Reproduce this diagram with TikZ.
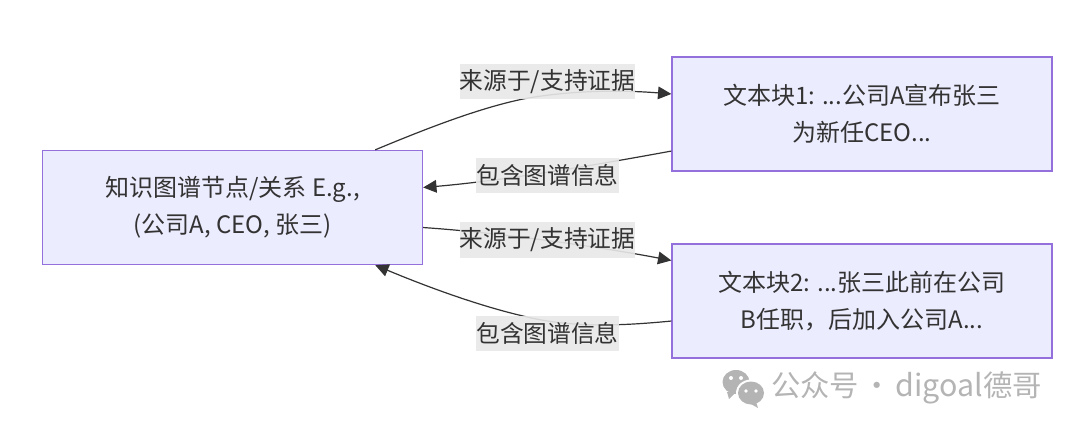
\documentclass[tikz,border=0pt]{standalone}
\usepackage{fontspec}
\setmainfont{Noto Sans CJK SC}
\usetikzlibrary{arrows.meta}
\definecolor{boxfill}{HTML}{ECECFF}
\definecolor{boxline}{HTML}{9370DB}
\definecolor{edgeline}{HTML}{333333}
\definecolor{labelfill}{HTML}{E8E8E8}
\definecolor{markgray}{HTML}{B4B4B4}
\begin{document}
\begin{tikzpicture}[x=0.75pt,y=-0.75pt,
  box/.style={draw=boxline,fill=boxfill,line width=1pt,minimum width=285pt,minimum height=85.5pt,
    inner sep=0pt,align=center,text=edgeline,font=\fontsize{18}{27.7}\selectfont},
  edge/.style={draw=edgeline,line width=0.9pt,-{Triangle[length=10pt,width=9.5pt]}},
  lab/.style={fill=labelfill,fill opacity=0.9,text opacity=1,text=edgeline,inner sep=0pt,minimum height=26.5pt,
    font=\fontsize{17.8}{20}\selectfont}]
\useasboundingbox (0,0) rectangle (1080,432);
\node[box] (kg) at (232.5,207.5) {知识图谱节点/关系 E.g.,\\(公司A, CEO, 张三)};
\node[box] (blockA) at (862,114) {文本块1: ...公司A宣布张三\\为新任CEO...};
\node[box] (blockB) at (862,301) {文本块2: ...张三此前在公司\\B任职，后加入公司A...};
\draw[edge] (kg.22.2) .. controls (430,127) and (480,108) .. (523,99) .. controls (560,92) and (610,89) .. (blockA.174.3);
\draw[edge] (blockA.191.3) .. controls (590,166) and (500,181) .. (kg.6.1);
\draw[edge] (kg.-6.1) .. controls (490,232) and (590,245) .. (blockB.168.7);
\draw[edge] (blockB.186) .. controls (620,326) and (570,328) .. (523,316) .. controls (480,306) and (430,288) .. (kg.-22.2);
\node[lab] (labA) at (547.5,81.5) {来源于/支持证据};
\node[lab] (labB) at (547.5,175.5) {包含图谱信息};
\node[lab] (labC) at (547.5,240) {来源于/支持证据};
\node[lab] (labD) at (547.5,333.5) {包含图谱信息};
% watermark
\fill[markgray] (736,382) ellipse (13.5 and 12);
\fill[markgray] (727,392) -- (729,399) -- (736,392) -- cycle;
\fill[white] (751,393) ellipse (15 and 13.5);
\fill[markgray] (751,393) ellipse (13 and 11.5);
\fill[markgray] (756,402) -- (758,408) -- (749,403) -- cycle;
\foreach \ex/\ey in {731/378,741/378} \fill[white] (\ex,\ey) circle (2);
\foreach \ex/\ey in {746/391,756/391} \fill[white] (\ex,\ey) circle (1.8);
\node[anchor=west,text=markgray,inner sep=0pt,font=\fontsize{22}{24}\selectfont] (mark) at (771,388) {\spaceskip=0.12em 公众号 · {\fontsize{22.8}{24}\selectfont digoal}德哥};
\end{tikzpicture}
\end{document}
